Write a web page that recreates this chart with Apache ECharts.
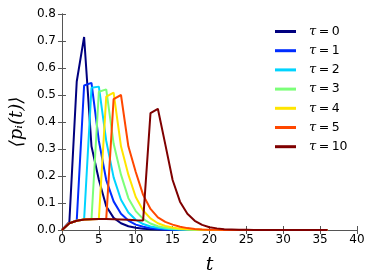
<!DOCTYPE html>
<html>
<head>
<meta charset="utf-8">
<script src="https://cdn.jsdelivr.net/npm/echarts@6/dist/echarts.min.js"></script>
<style>html,body{margin:0;padding:0;background:#fff}#c{width:374px;height:280px}</style>
</head>
<body>
<div id="c"></div>
<script>
var times = [0,1,2,3,4,5,6,7,8,9,10,11,12,13,14,15,16,17,18,19,20,21,22,23,24,25,26,27,28,29,30,31,32,33,34,35,36];
var taus = [0,1,2,3,4,5,10];
var p_tau0 = [0,0.03,0.55,0.715,0.31,0.186,0.088,0.045,0.025,0.014,0.008,0.005,0.003,0.002,0.001,0.001,0,0,0,0,0,0,0,0,0,0,0,0,0,0,0,0,0,0,0,0,0];
var p_tau1 = [0,0.025,0.035,0.535,0.545,0.33,0.185,0.106,0.06,0.035,0.02,0.012,0.007,0.004,0.002,0.001,0.001,0,0,0,0,0,0,0,0,0,0,0,0,0,0,0,0,0,0,0,0];
var p_tau2 = [0,0.025,0.034,0.039,0.527,0.531,0.33,0.195,0.112,0.065,0.038,0.022,0.013,0.008,0.005,0.003,0.002,0.001,0,0,0,0,0,0,0,0,0,0,0,0,0,0,0,0,0,0,0];
var p_tau3 = [0,0.025,0.034,0.039,0.040,0.512,0.521,0.32,0.205,0.118,0.07,0.041,0.024,0.014,0.008,0.005,0.003,0.002,0.001,0,0,0,0,0,0,0,0,0,0,0,0,0,0,0,0,0,0];
var p_tau4 = [0,0.025,0.034,0.039,0.040,0.041,0.494,0.509,0.31,0.205,0.122,0.072,0.043,0.025,0.015,0.009,0.005,0.003,0.002,0.001,0,0,0,0,0,0,0,0,0,0,0,0,0,0,0,0,0];
var p_tau5 = [0,0.025,0.034,0.039,0.040,0.041,0.041,0.485,0.5,0.31,0.215,0.13,0.078,0.047,0.03,0.02,0.012,0.007,0.004,0.002,0.001,0.001,0,0,0,0,0,0,0,0,0,0,0,0,0,0,0];
var p_tau10 = [0,0.025,0.034,0.039,0.040,0.041,0.041,0.040,0.039,0.038,0.036,0.035,0.433,0.449,0.318,0.185,0.105,0.06,0.034,0.019,0.01,0.006,0.003,0.002,0.001,0.001,0,0,0,0,0,0,0,0,0,0,0];
var seriesValues = [p_tau0,p_tau1,p_tau2,p_tau3,p_tau4,p_tau5,p_tau10];
var colors = ['#00007f','#002cff','#00d4ff','#7cff79','#ffe500','#ff4700','#7f0000'];
var xTicks = [0,5,10,15,20,25,30,35,40];
var yTicks = [0,0.1,0.2,0.3,0.4,0.5,0.6,0.7,0.8];

var chart = echarts.init(document.getElementById('c'), null, {renderer:'canvas'});
var frame = '#555';
var tickFont = {color:'#000', fontSize:12, fontFamily:'DejaVu Sans'};
var series = taus.map(function(tau, i){
  return {
    name: '\u03c4=' + tau,
    type: 'line',
    symbol: 'none',
    showSymbol: false,
    data: times.map(function(t, k){ return [t, seriesValues[i][k]]; }),
    lineStyle: {width: 2, color: colors[i]},
    itemStyle: {color: colors[i]},
    clip: true,
    animation: false
  };
});
var baseX = {
  type:'value', min:0, max:40, interval:5,
  axisLine:{show:true, lineStyle:{color:frame, width:1}},
  axisTick:{show:true, inside:true, length:4, lineStyle:{color:frame}},
  splitLine:{show:false}
};
var baseY = {
  type:'value', min:0, max:0.8, interval:0.1,
  axisLine:{show:true, lineStyle:{color:frame, width:1}},
  axisTick:{show:true, inside:true, length:4, lineStyle:{color:frame}},
  splitLine:{show:false}
};
chart.setOption({
  animation:false,
  backgroundColor:'#fff',
  grid:{left:58, right:17, top:14, bottom:46, containLabel:false},
  legend:{
    orient:'vertical', left:275, top:25, padding:0,
    icon:'rect', itemWidth:21, itemHeight:3, itemGap:6.2,
    data: series.map(function(s){return s.name;}),
    formatter: function(name){ return '{a|\u03c4}{b|\u2009=\u2009' + name.split('=')[1] + '}'; },
    textStyle:{
      color:'#000',
      rich:{
        a:{fontFamily:'DejaVu Serif', fontStyle:'italic', fontSize:13, color:'#000', padding:[0,0,0,8]},
        b:{fontFamily:'DejaVu Sans', fontSize:12.5, color:'#000'}
      }
    }
  },
  xAxis:[
    Object.assign({}, baseX, {
      position:'bottom',
      axisLabel:Object.assign({margin:4, formatter:function(v){return xTicks.indexOf(v)>=0?String(v):'';}}, tickFont),
      name:'t', nameLocation:'middle', nameGap:26,
      nameTextStyle:{fontFamily:'DejaVu Serif', fontStyle:'italic', fontSize:19, color:'#000'}
    }),
    Object.assign({}, baseX, {position:'top', axisLabel:{show:false}})
  ],
  yAxis:[
    Object.assign({}, baseY, {
      position:'left',
      axisLabel:Object.assign({margin:6, formatter:function(v){return yTicks.some(function(y){return Math.abs(y-v)<1e-9;})?v.toFixed(1):'';}}, tickFont),
      name:'\u27e8p\u1d62(t)\u27e9', nameLocation:'middle', nameGap:32, nameRotate:90,
      nameTextStyle:{fontFamily:'DejaVu Serif', fontStyle:'italic', fontSize:18, color:'#000'}
    }),
    Object.assign({}, baseY, {position:'right', axisLabel:{show:false}})
  ],
  series: series
});
</script>
</body>
</html>
